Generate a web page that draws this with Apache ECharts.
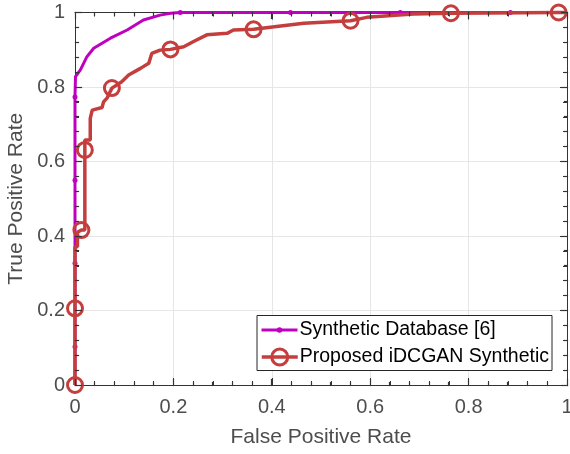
<!DOCTYPE html>
<html>
<head>
<meta charset="utf-8">
<script src="https://cdn.jsdelivr.net/npm/echarts@6/dist/echarts.min.js"></script>
<style>
html,body{margin:0;padding:0;background:#fff;}
#c{width:570px;height:454px;}
</style>
</head>
<body>
<div id="c"></div>
<script>
// Synthetic Database [6]
var fpr1 = [0,0,0,0,0,0.001,0.011,0.024,0.038,0.072,0.106,0.139,0.173,0.194,0.214,0.438,0.661,0.885,1];
var tpr1 = [0,0.103,0.327,0.55,0.773,0.828,0.846,0.881,0.904,0.931,0.953,0.98,0.993,0.998,1,1,1,1,1];
var marks1 = [1,2,3,4,14,15,16,17];
// Proposed iDCGAN Synthetic
var fpr2 = [0,0,0,0.005,0.005,0.013,0.02,0.02,0.02,0.031,0.031,0.035,0.055,0.058,0.065,0.075,0.095,0.109,0.133,0.15,0.156,0.173,0.194,0.221,0.241,0.268,0.309,0.322,0.363,0.431,0.465,0.56,0.593,0.688,0.764,0.983,1];
var tpr2 = [0,0.206,0.371,0.371,0.41,0.416,0.416,0.631,0.658,0.658,0.716,0.738,0.745,0.76,0.77,0.797,0.814,0.832,0.85,0.864,0.89,0.899,0.901,0.908,0.922,0.94,0.944,0.953,0.955,0.966,0.971,0.978,0.987,0.996,0.998,1,1];
var marks2 = [0,1,5,7,15,22,28,31,34,35];
var seriesNames = ['Synthetic Database [6]','Proposed iDCGAN Synthetic'];
var xTicks = [0,0.2,0.4,0.6,0.8,1];
var yTicks = [0,0.2,0.4,0.6,0.8,1];
var minorPerMajor = 5;

function build(fx, fy, marks){
  return fx.map(function(x,i){
    var d = {value:[x, fy[i]]};
    if (marks.indexOf(i) < 0) d.symbol = 'none';
    return d;
  });
}
var fmt = function(v){ return String(Math.round(v*10)/10); };
var axisCol = '#333';
var labCol = '#4d4d4d';
var font = 'Liberation Sans, Arial, sans-serif';
var red = '#c43e3e', mag = '#c000c0';
var W = 570, H = 454;
var G = {left:75, right:3, top:12.5, bottom:69};

var chart = echarts.init(document.getElementById('c'), null, {renderer:'canvas'});
function baseAxis(extra){
  var a = {
    type:'value', min:0, max:1, interval:0.2,
    axisLine:{show:true, onZero:false, lineStyle:{color:axisCol, width:1}},
    axisTick:{show:true, inside:true, length:7, lineStyle:{color:axisCol, width:1}},
    minorTick:{show:true, splitNumber:minorPerMajor, length:4, lineStyle:{color:axisCol, width:1}},
    axisLabel:{show:false}, splitLine:{show:false}
  };
  for (var k in extra) a[k] = extra[k];
  return a;
}
chart.setOption({
  animation:false,
  backgroundColor:'#fff',
  grid:{left:G.left, right:G.right, top:G.top, bottom:G.bottom, containLabel:false, outerBoundsMode:'none'},
  legend:[{
    left:260, top:320, orient:'horizontal', z:20,
    padding:0, itemWidth:36, itemHeight:7,
    lineStyle:{width:3},
    textStyle:{fontSize:19.5, color:'#000', fontFamily:font, padding:[0,0,0,-3]},
    data:[seriesNames[0]]
  },{
    left:260, top:347, orient:'horizontal', z:20,
    padding:0, itemWidth:36, itemHeight:20,
    lineStyle:{width:3.5},
    itemStyle:{borderWidth:3},
    textStyle:{fontSize:19.5, color:'#000', fontFamily:font, padding:[0,0,0,-3]},
    data:[seriesNames[1]]
  }],
  xAxis:[baseAxis({
    position:'bottom',
    name:'False Positive Rate', nameLocation:'middle', nameGap:42,
    nameTextStyle:{fontSize:21, color:labCol, fontFamily:font},
    axisLabel:{show:true, fontSize:20, color:labCol, margin:12, fontFamily:font, formatter:fmt},
    splitLine:{show:true, lineStyle:{color:'#e6e6e6', width:1}}
  }), baseAxis({position:'top'})],
  yAxis:[baseAxis({
    position:'left',
    name:'True Positive Rate', nameLocation:'middle', nameGap:46,
    nameTextStyle:{fontSize:21, color:labCol, fontFamily:font},
    axisLabel:{show:true, fontSize:20, color:labCol, margin:10, fontFamily:font, formatter:fmt},
    splitLine:{show:true, lineStyle:{color:'#e6e6e6', width:1}}
  }), baseAxis({position:'right'})],
  series:[{
    name:seriesNames[0], type:'line', xAxisIndex:0, yAxisIndex:0,
    data:build(fpr1,tpr1,marks1),
    symbol:'circle', symbolSize:5, showAllSymbol:true,
    lineStyle:{color:mag, width:3},
    itemStyle:{color:mag, borderWidth:0},
    clip:false, z:2
  },{
    name:seriesNames[1], type:'line', xAxisIndex:0, yAxisIndex:0,
    data:build(fpr2,tpr2,marks2),
    symbol:'circle', symbolSize:15, showAllSymbol:true,
    lineStyle:{color:red, width:3.5},
    itemStyle:{color:'rgba(0,0,0,0)', borderColor:red, borderWidth:3},
    clip:false, z:3
  }]
});

// legend frame plus inside tick marks on all four sides of the box, drawn as thin filled rects
var L = G.left, R = W - G.right, T = G.top, B = H - G.bottom;
var x0 = xTicks[0], x1 = xTicks[xTicks.length-1], y0 = yTicks[0], y1 = yTicks[yTicks.length-1];
function sx(v){ return L + (v - x0) / (x1 - x0) * (R - L); }
function sy(v){ return B - (v - y0) / (y1 - y0) * (B - T); }
var els = [{
  type:'rect', id:'legendBox', x:257, y:315.5, z:10,
  shape:{x:0, y:0, width:295, height:55},
  style:{fill:'#fff', stroke:'#262626', lineWidth:1}
}];
var nTick = 0;
function box(x, y, w, h){
  nTick++;
  els.push({type:'rect', id:'tk' + nTick, x:x, y:y, z:11, shape:{x:0, y:0, width:w, height:h}, style:{fill:axisCol, stroke:axisCol, lineWidth:0.2}});
}
function eachTick(arr, cb){
  for (var i=0;i<arr.length;i++){
    cb(arr[i], true);
    if (i < arr.length-1){
      for (var k=1;k<minorPerMajor;k++) cb(arr[i] + k*(arr[i+1]-arr[i])/minorPerMajor, false);
    }
  }
}
var Bp = Math.floor(B), Tp = Math.floor(T), Lp = Math.floor(L), Rp = Math.floor(R);
eachTick(xTicks, function(v, major){
  var X = Math.floor(sx(v)), len = major ? 7 : 4;
  box(X, Bp + 1 - len, 1, len);
  box(X, Tp, 1, len);
});
eachTick(yTicks, function(v, major){
  var Y = Math.floor(sy(v)), len = major ? 7 : 4;
  box(Lp, Y, len, 1);
  box(Rp + 1 - len, Y, len, 1);
});
chart.setOption({graphic:els});
</script>
</body>
</html>
